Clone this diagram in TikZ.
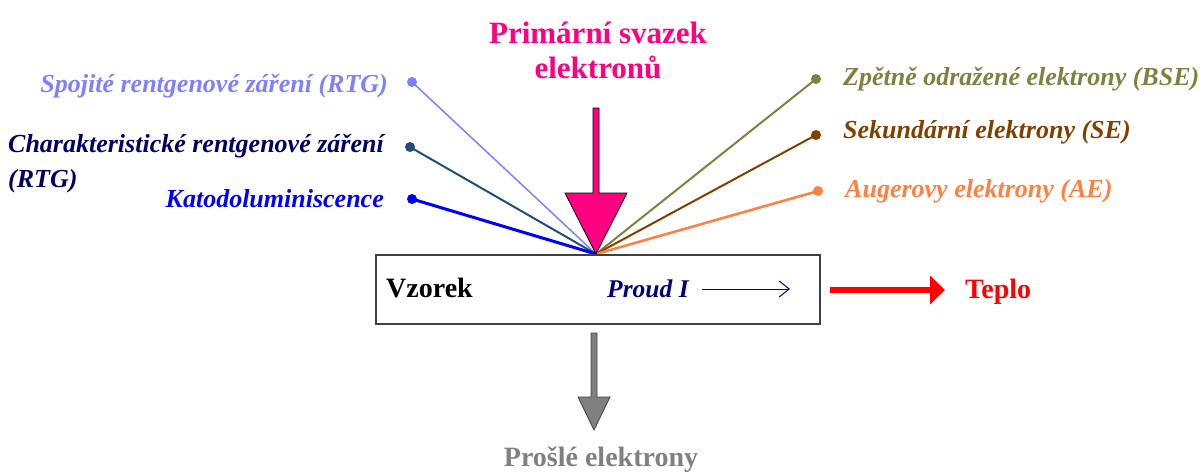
\documentclass[tikz,border=0pt]{standalone}
\usepackage{fontspec}
\setmainfont{Liberation Serif}
\usetikzlibrary{arrows.meta}

\definecolor{beam}{HTML}{FF0080}
\definecolor{rtgLight}{HTML}{8080FF}
\definecolor{rtgText}{HTML}{000066}
\definecolor{rtgLine}{HTML}{1F4E7A}
\definecolor{cathodo}{HTML}{0000FF}
\definecolor{bse}{HTML}{808040}
\definecolor{se}{HTML}{804000}
\definecolor{auger}{HTML}{FF8040}
\definecolor{current}{HTML}{000080}
\definecolor{heat}{HTML}{FF0000}
\definecolor{transm}{HTML}{808080}
\definecolor{outline}{HTML}{404040}

\begin{document}
\begin{tikzpicture}[x=1pt,y=-1pt,
  lab/.style={inner sep=0pt, font=\fontsize{26}{35}\selectfont\bfseries\itshape},
  bigtxt/.style={inner sep=0pt, font=\fontsize{28}{35}\selectfont\bfseries},
  dotmark/.style={fill, circle, inner sep=0pt, minimum size=10pt},
  ray/.style={line cap=round}
]
\useasboundingbox (0,0) rectangle (1203,472);

% impact point of the primary beam on the sample
\coordinate (hit) at (596,254);

% emitted signals: end points
\node[dotmark, rtgLight] (d1) at (412,82) {};
\node[dotmark, rtgLine]  (d2) at (410,147) {};
\node[dotmark, cathodo]  (d3) at (412,199) {};
\node[dotmark, bse]      (d4) at (816,79) {};
\node[dotmark, se]       (d5) at (816,135) {};
\node[dotmark, auger]    (d6) at (818,191) {};

\draw[ray, rtgLight, line width=1.5pt] (d1.center) -- (hit);
\draw[ray, rtgLine,  line width=2pt]   (d2.center) -- (hit);
\draw[ray, cathodo,  line width=3pt]   (d3.center) -- (hit);
\draw[ray, bse,      line width=2pt]   (d4.center) -- (hit);
\draw[ray, se,       line width=2pt]   (d5.center) -- (hit);
\draw[ray, auger,    line width=2.5pt] (d6.center) -- (hit);

% signal labels (base of a multi-line node is its last line)
\node[lab, text=rtgLight, anchor=base east] (l1) at (388,92) {Spojité rentgenové záření (RTG)};
\node[lab, text=rtgText, anchor=base west, align=left] (l2) at (8,187) {Charakteristické rentgenové záření\\(RTG)};
\node[lab, text=cathodo, anchor=base east] (l3) at (384,207) {Katodoluminiscence};
\node[lab, text=bse, anchor=base west] (l4) at (843,85) {Zpětně odražené elektrony (BSE)};
\node[lab, text=se, anchor=base west] (l5) at (843,138) {Sekundární elektrony (SE)};
\node[lab, text=auger, anchor=base west] (l6) at (845,197) {Augerovy elektrony (AE)};

% primary beam
\node[inner sep=0pt, font=\fontsize{31}{35}\selectfont\bfseries, text=beam, align=center, anchor=base] (beamlab) at (598,78) {Primární svazek\\elektronů};
\filldraw[fill=beam, draw=black, line width=0.8pt]
  (593,108) -- (599,108) -- (599,193) -- (627,193) -- (hit) -- (565,193) -- (593,193) -- cycle;

% sample
\node[draw=outline, line width=1.5pt, minimum width=444pt, minimum height=69pt, inner sep=0pt] (sample) at (598,289.5) {};
\node[bigtxt, anchor=base west] (vzorek) at (386,297) {Vzorek};
\node[lab, font=\fontsize{25.5}{30}\selectfont\bfseries\itshape, text=current, anchor=base west] (proud) at (607,297) {Proud I};
\coordinate (curA) at (702,289);
\coordinate (curB) at (790,289);
\draw[current, line width=1pt, -{Straight Barb[length=10pt, width=16pt, line width=1pt]}] (curA) -- (curB);

% heat
\node[bigtxt, text=heat, anchor=base west] (teplo) at (965,298) {Teplo};
\coordinate (heatA) at (830,290);
\coordinate (heatB) at (945,290);
\draw[heat, line width=6pt, -{Triangle[length=15pt, width=28pt]}] (heatA) -- (heatB);

% transmitted electrons
\filldraw[fill=transm, draw=outline, line width=0.8pt]
  (591,333) -- (597,333) -- (597,397) -- (610,397) -- (594,430) -- (578,397) -- (591,397) -- cycle;
\node[bigtxt, text=transm, anchor=base] (prosle) at (601,466) {Prošlé elektrony};
\end{tikzpicture}
\end{document}
